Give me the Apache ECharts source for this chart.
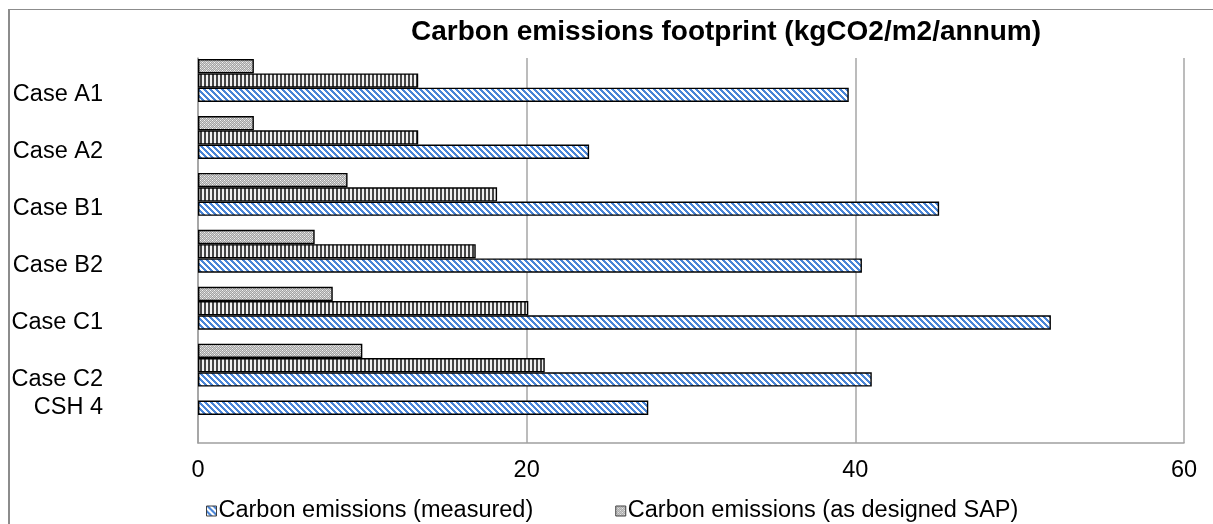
<!DOCTYPE html>
<html>
<head>
<meta charset="utf-8">
<script src="https://cdn.jsdelivr.net/npm/echarts@6/dist/echarts.min.js"></script>
<style>
  html, body { margin: 0; padding: 0; background: #fff; overflow: hidden; }
  #frame { position: absolute; left: 8px; top: 9px; width: 1400px; height: 700px;
           border-left: 2px solid #8c8c8c; border-top: 1px solid #8c8c8c; }
  #chart { position: absolute; left: 0; top: 0; width: 1213px; height: 524px; }
</style>
</head>
<body>
<div id="frame"></div>
<div id="chart"></div>
<script>
// Emission intensities in kgCO2/m2/annum, one entry per case
const categories   = ['Case A1', 'Case A2', 'Case B1', 'Case B2', 'Case C1', 'Case C2', 'CSH 4'];
const measured     = [39.6, 23.8, 45.1, 40.4, 51.9, 41.0, null];
const designedSAP  = [3.4, 3.4, 9.1, 7.1, 8.2, 10.0, null];
const designedDER  = [13.4, 13.4, 18.2, 16.9, 20.1, 21.1, null];
const csh4Measured = [null, null, null, null, null, null, 27.4];
const xTicks       = [0, 20, 40, 60];

const NAME_MEASURED = 'Carbon emissions (measured)';
const NAME_SAP = 'Carbon emissions (as designed SAP)';
const NAME_DER = 'Carbon emissions (as designed DER)';

const FONT = '"Liberation Sans", Arial, sans-serif';
const BAR = 14.3;

// Pixel-tiled hatch fills
function tile(size, paint) {
  const c = document.createElement('canvas');
  c.width = c.height = size;
  const g = c.getContext('2d');
  for (let y = 0; y < size; y++) {
    for (let x = 0; x < size; x++) {
      g.fillStyle = paint(x, y);
      g.fillRect(x, y, 1, 1);
    }
  }
  return { image: c, repeat: 'repeat' };
}
const blueDiagonal = tile(6, (x, y) => ((x - y + 12) % 6) < 3 ? '#4a85d6' : '#ffffff');
const darkVertical = tile(4, (x) => x < 2 ? '#454545' : '#f0f0f0');
const dottedGrey = tile(4, (x, y) => {
  if ((x % 4 === 0 && y % 4 === 0) || (x % 4 === 2 && y % 4 === 2)) return '#f4f4f4';
  return (x + y) % 2 === 0 ? '#d0d0d0' : '#a4a4a4';
});

const outline = { borderColor: '#000', borderWidth: 1.4 };

const barSeries = (name, data, fill, stack) => ({
  name, type: 'bar', data, stack,
  xAxisIndex: 1, yAxisIndex: 1,
  barWidth: BAR, barGap: '0%', clip: false,
  itemStyle: Object.assign({ color: fill }, outline),
  emphasis: { disabled: true }
});

// Empty slots below each group keep the measured bar centred on its label
const spacer = () => ({
  type: 'bar', data: [], xAxisIndex: 1, yAxisIndex: 1,
  barWidth: BAR, barGap: '0%', silent: true
});

const last = categories.length - 1;

const option = {
  animation: false,
  textStyle: { fontFamily: FONT },
  title: {
    text: 'Carbon emissions footprint (kgCO2/m2/annum)',
    left: 411, top: 18, padding: 0,
    textStyle: { fontSize: 28, fontWeight: 'bold', color: '#000', fontFamily: FONT }
  },
  legend: {
    data: [NAME_MEASURED, NAME_SAP],
    left: 206, top: 499, padding: 0,
    icon: 'rect', itemWidth: 10, itemHeight: 10, itemGap: 82,
    itemStyle: { borderColor: '#404040', borderWidth: 1 },
    textStyle: { fontSize: 23.5, color: '#000', fontFamily: FONT, padding: [0, 0, 0, -3] }
  },
  grid: [
    { left: 198, right: 29, top: 58, bottom: 81 },
    { left: 198, right: 29, top: 66.4, height: 398.4 }
  ],
  xAxis: [
    {
      gridIndex: 0, type: 'value',
      min: xTicks[0], max: xTicks[xTicks.length - 1], interval: xTicks[1] - xTicks[0],
      axisLine: { show: true, lineStyle: { color: '#a0a0a0', width: 1.5 } },
      axisTick: { show: false },
      splitLine: { show: true, lineStyle: { color: '#a6a6a6', width: 1.5 } },
      axisLabel: { fontSize: 23.5, color: '#000', margin: 16, fontFamily: FONT }
    },
    {
      gridIndex: 1, type: 'value', show: false,
      min: xTicks[0], max: xTicks[xTicks.length - 1]
    }
  ],
  yAxis: [
    {
      gridIndex: 0, type: 'category', data: categories, inverse: true,
      axisLine: { show: true, lineStyle: { color: '#a0a0a0', width: 1.5 } },
      axisTick: { show: false }, axisLabel: { show: false }, splitLine: { show: false }
    },
    {
      gridIndex: 1, type: 'category', data: categories, inverse: true,
      axisLine: { show: false }, axisTick: { show: false }, splitLine: { show: false },
      axisLabel: {
        margin: 95, fontSize: 23.5, color: '#000', fontFamily: FONT,
        formatter: (v, i) => i === last ? '{lift|' + v + '}' : v,
        rich: { lift: { fontSize: 23.5, color: '#000', fontFamily: FONT, padding: [0, 0, 57, 0] } }
      }
    }
  ],
  series: [
    barSeries(NAME_SAP, designedSAP, dottedGrey, 'top'),
    barSeries(NAME_DER, designedDER, darkVertical),
    barSeries(NAME_MEASURED, measured, blueDiagonal),
    spacer(),
    spacer(),
    barSeries('CSH 4 (measured)', csh4Measured, blueDiagonal, 'top')
  ]
};

const chart = echarts.init(document.getElementById('chart'), null, { renderer: 'canvas' });
chart.setOption(option);
</script>
</body>
</html>
